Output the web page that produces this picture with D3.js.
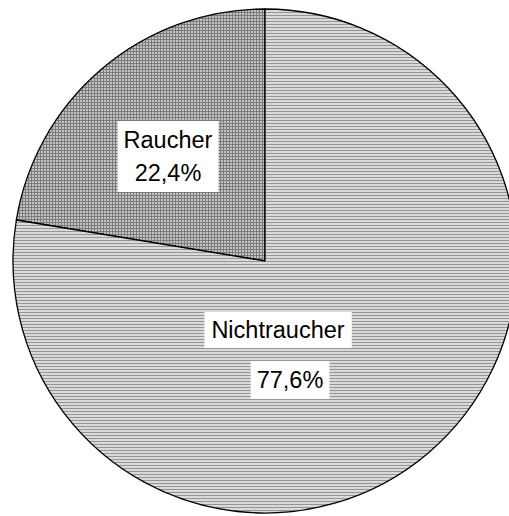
<!DOCTYPE html>
<html>
<head>
<meta charset="utf-8">
<script src="https://cdn.jsdelivr.net/npm/d3@7"></script>
<style>
  html, body { margin: 0; padding: 0; background: #fff; }
  svg { display: block; }
</style>
</head>
<body>
<svg id="chart"></svg>
<script>
const categories = ["Raucher", "Nichtraucher"];
const values = [22.4, 77.6];
const valueLabels = ["22,4%", "77,6%"];

const width = 509, height = 516;
const cx = 265, cy = 261, radius = 252;

const svg = d3.select("#chart")
    .attr("width", width)
    .attr("height", height);

const defs = svg.append("defs");

// cross hatch for Raucher
const grid = defs.append("pattern")
    .attr("id", "grid")
    .attr("patternUnits", "userSpaceOnUse")
    .attr("width", 3).attr("height", 3);
grid.append("rect").attr("width", 3).attr("height", 3).attr("fill", "#c4c4c4");
grid.append("rect").attr("width", 3).attr("height", 1).attr("fill", "#7a7a7a");
grid.append("rect").attr("width", 1).attr("height", 3).attr("fill", "#7a7a7a");

// horizontal stripes for Nichtraucher
const stripes = defs.append("pattern")
    .attr("id", "stripes")
    .attr("patternUnits", "userSpaceOnUse")
    .attr("width", 3).attr("height", 3);
stripes.append("rect").attr("width", 3).attr("height", 3).attr("fill", "#dadada");
stripes.append("rect").attr("width", 3).attr("height", 1).attr("fill", "#959595");

const fills = d3.scaleOrdinal()
    .domain(categories)
    .range(["url(#grid)", "url(#stripes)"]);

// Raucher slice goes counter-clockwise from 12 o'clock
const total = d3.sum(values);
const angle = d3.scaleLinear().domain([0, total]).range([0, 2 * Math.PI]);
const arcs = [
    { cat: categories[0], startAngle: -angle(values[0]), endAngle: 0 },
    { cat: categories[1], startAngle: 0, endAngle: angle(values[1]) }
];

const arc = d3.arc().innerRadius(0).outerRadius(radius);

const g = svg.append("g").attr("transform", `translate(${cx},${cy})`);

g.selectAll("path")
    .data(arcs)
    .join("path")
    .attr("d", arc)
    .attr("fill", d => fills(d.cat))
    .attr("stroke", "#000")
    .attr("stroke-width", 1.3)
    .attr("stroke-linejoin", "round");

// labels: white boxes behind text
const font = "Liberation Sans, Arial, sans-serif";
function boxedText(lines, xs, ys, pad) {
    const grp = svg.append("g");
    lines.forEach((t, i) => grp.append("text")
        .attr("x", xs[i])
        .attr("y", ys[i])
        .attr("text-anchor", "middle")
        .attr("font-family", font)
        .attr("font-size", 23.5)
        .attr("fill", "#000")
        .text(t));
    const b = grp.node().getBBox();
    grp.insert("rect", "text")
        .attr("x", b.x - pad.x).attr("y", b.y - pad.y)
        .attr("width", b.width + 2 * pad.x).attr("height", b.height + 2 * pad.y)
        .attr("fill", "#fff");
}

boxedText([categories[0], valueLabels[0]], [168, 168], [148, 181], { x: 6, y: 6 });
boxedText([categories[1]], [278], [338], { x: 7, y: 5 });
boxedText([valueLabels[1]], [290], [388], { x: 6, y: 6 });
</script>
</body>
</html>
